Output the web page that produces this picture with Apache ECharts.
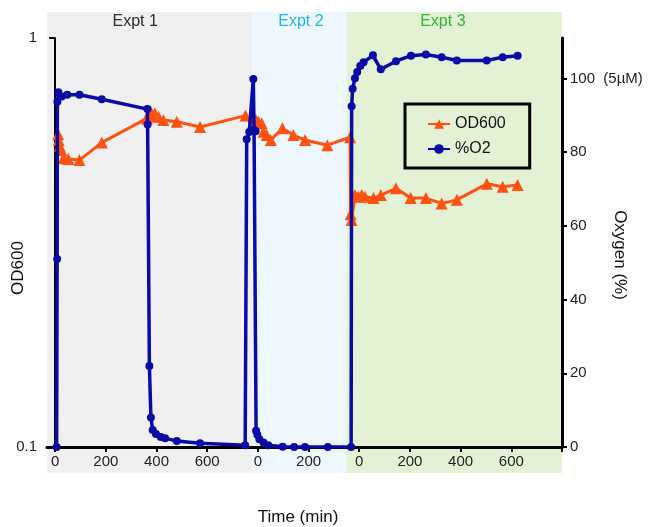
<!DOCTYPE html>
<html>
<head>
<meta charset="utf-8">
<script src="https://cdn.jsdelivr.net/npm/echarts@6/dist/echarts.min.js"></script>
<style>
  html, body { margin: 0; padding: 0; background: #fff; }
  #chart { width: 654px; height: 527px; }
</style>
</head>
<body>
<div id="chart"></div>
<script>
// each experiment has its own clock, laid side by side on one axis
const exptNames = ["Expt 1", "Expt 2", "Expt 3"];
const exptColors = ["#2b2b2b", "#1fb5ea", "#2fb52f"];
const exptFills = ["#f0f0f0", "#eef7fd", "#e3f2d5"];
const exptOffsets = [0, 800, 1200];
const exptBounds = [[-32, 778], [778, 1150], [1150, 2000]];
const exptLabelAt = [316, 970, 1530];

const xTicks = [0, 200, 400, 600, 800, 1000, 1200, 1400, 1600, 1800, 2000];
const xLabels = [0, 200, 400, 600, 800, 1000, 1200, 1400, 1600, 1800];

// %O2
const expt1O2Time = [6, 8, 9, 13, 26, 48, 96, 184, 364, 365, 372, 378, 385, 398, 417, 434, 480, 572, 750, 756, 766];
const expt1O2 = [0, 51, 93.7, 96.3, 95.1, 95.6, 95.6, 94.4, 91.7, 87.5, 22, 8, 4.6, 3.5, 2.7, 2.4, 1.6, 1.0, 0.5, 83.5, 85.5];
const expt2O2Time = [-18, -15, -9, -7, -2, 6, 22, 41, 98, 143, 186, 276, 368];
const expt2O2 = [99.9, 86, 85.7, 4.4, 3.3, 2.1, 1.2, 0.5, 0.1, 0, 0, 0, 0];
const expt3O2Time = [-30, -26, -17, -8, 4, 17, 54, 85, 145, 204, 263, 325, 385, 503, 566, 625];
const expt3O2 = [92.5, 97.2, 100.1, 101.8, 103.4, 104.4, 106.3, 102.5, 104.7, 106.2, 106.5, 105.8, 104.9, 104.9, 105.8, 106.2];

// OD600
const expt1ODTime = [12, 14, 18, 24, 33, 52, 96, 184, 362, 371, 377, 383, 394, 408, 427, 480, 572, 751];
const expt1OD = [0.582, 0.563, 0.545, 0.532, 0.508, 0.506, 0.503, 0.555, 0.636, 0.656, 0.662, 0.644, 0.655, 0.642, 0.630, 0.624, 0.606, 0.646];
const expt2ODTime = [-23, -7, 2, 15, 22, 35, 51, 97, 140, 186, 274, 364];
const expt2OD = [0.613, 0.630, 0.624, 0.619, 0.590, 0.579, 0.563, 0.602, 0.579, 0.563, 0.547, 0.572];
const expt3ODTime = [-34, -30, -17, -4, 10, 23, 56, 85, 145, 203, 263, 325, 385, 503, 566, 625];
const expt3OD = [0.371, 0.359, 0.413, 0.409, 0.413, 0.409, 0.406, 0.413, 0.429, 0.406, 0.406, 0.394, 0.402, 0.440, 0.433, 0.437];

const font = "Liberation Sans, Arial, sans-serif";

function joinExpts(times, values) {
  const out = [];
  times.forEach(function(ts, i) {
    ts.forEach(function(t, j) {
      out.push([t + exptOffsets[i], values[i][j]]);
    });
  });
  return out;
}

function xLabel(v) {
  if (v >= exptOffsets[2]) return String(v - exptOffsets[2]);
  if (v >= exptOffsets[1]) return String(v - exptOffsets[1]);
  return String(v);
}

const chart = echarts.init(document.getElementById("chart"));

chart.setOption({
  animation: false,
  textStyle: { fontFamily: font },
  grid: { left: 47, right: 92, top: 38, bottom: 80 },
  legend: {
    orient: "vertical",
    left: 405,
    top: 104,
    padding: [12, 24, 11, 22],
    itemGap: 9,
    itemWidth: 22,
    itemHeight: 12,
    borderColor: "#000",
    borderWidth: 3,
    textStyle: { fontSize: 16, color: "#111", fontFamily: font },
    data: ["OD600", "%O2"],
  },
  xAxis: {
    type: "value",
    min: -32,
    max: 2000,
    axisLine: { onZero: false, lineStyle: { color: "#000", width: 3 } },
    axisTick: { customValues: xTicks, length: 5, lineStyle: { color: "#000", width: 2 } },
    axisLabel: {
      customValues: xLabels,
      formatter: xLabel,
      fontSize: 15,
      color: "#222",
      margin: 7,
    },
    splitLine: { show: false },
  },
  yAxis: [
    {
      type: "log",
      min: 0.1,
      max: 1,
      axisLine: { show: true, lineStyle: { color: "#000", width: 2 } },
      axisTick: { show: true, length: 6, lineStyle: { color: "#000", width: 2 } },
      axisLabel: { fontSize: 15, color: "#222", margin: 10 },
      splitLine: { show: false },
      minorTick: { show: false },
    },
    {
      type: "value",
      min: 0,
      max: 111,
      interval: 20,
      position: "right",
      axisLine: { show: true, lineStyle: { color: "#000", width: 3 } },
      axisTick: { show: true, length: 5, lineStyle: { color: "#000", width: 2 } },
      axisLabel: {
        showMaxLabel: false,
        fontSize: 15,
        color: "#222",
        margin: 8,
        formatter: function(v) { return v === 100 ? "100  (5\u00b5M)" : String(v); },
      },
      splitLine: { show: false },
    },
  ],
  series: [
    {
      name: "OD600",
      type: "line",
      yAxisIndex: 0,
      data: joinExpts([expt1ODTime, expt2ODTime, expt3ODTime], [expt1OD, expt2OD, expt3OD]),
      symbol: "triangle",
      symbolSize: 12,
      itemStyle: { color: "#ff5210" },
      lineStyle: { color: "#ff5210", width: 3 },
      z: 3,
    },
    {
      name: "%O2",
      type: "line",
      yAxisIndex: 1,
      data: joinExpts([expt1O2Time, expt2O2Time, expt3O2Time], [expt1O2, expt2O2, expt3O2]),
      symbol: "circle",
      symbolSize: 8,
      itemStyle: { color: "#0a0aa6" },
      lineStyle: { color: "#0a0aa6", width: 3.5 },
      z: 4,
    },
  ],
});

// coloured experiment bands run past the plot, so draw them as graphics
const graphics = [];
exptNames.forEach(function(name, i) {
  const x0 = chart.convertToPixel({ xAxisIndex: 0 }, exptBounds[i][0]);
  const x1 = chart.convertToPixel({ xAxisIndex: 0 }, exptBounds[i][1]);
  graphics.push({
    type: "rect",
    z: -10,
    shape: { x: x0, y: 12, width: x1 - x0, height: 461 },
    style: { fill: exptFills[i] },
    silent: true,
  });
  graphics.push({
    type: "text",
    z: -5,
    x: chart.convertToPixel({ xAxisIndex: 0 }, exptLabelAt[i]),
    y: 22,
    style: {
      text: name,
      fill: exptColors[i],
      font: "16px " + font,
      align: "center",
      verticalAlign: "middle",
    },
  });
});
graphics.push(
  {
    type: "text", x: 18, y: 268, rotation: Math.PI / 2,
    style: { text: "OD600", fill: "#111", font: "17px " + font, align: "center", verticalAlign: "middle" },
  },
  {
    type: "text", x: 620, y: 255, rotation: -Math.PI / 2,
    style: { text: "Oxygen (%)", fill: "#111", font: "17px " + font, align: "center", verticalAlign: "middle" },
  },
  {
    type: "text", x: 298, y: 517,
    style: { text: "Time (min)", fill: "#111", font: "17px " + font, align: "center", verticalAlign: "middle" },
  }
);
chart.setOption({ graphic: graphics });
</script>
</body>
</html>
